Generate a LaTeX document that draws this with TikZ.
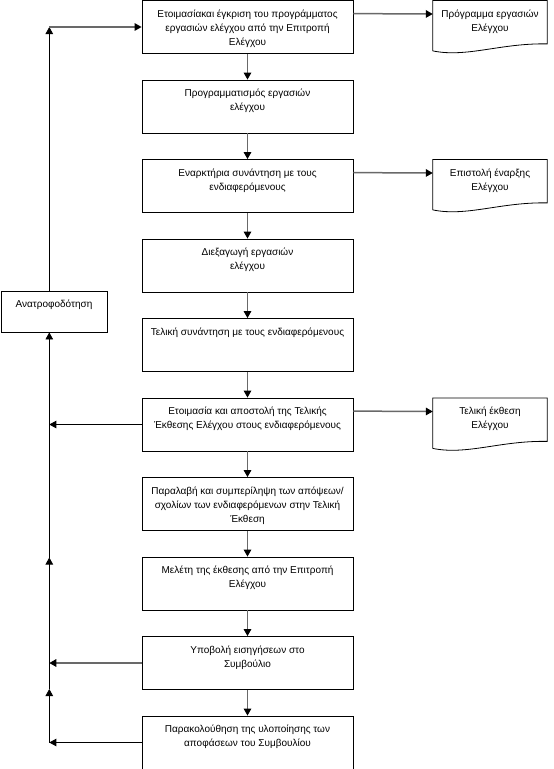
\documentclass[tikz,border=0pt]{standalone}
\usepackage{fontspec}
\setmainfont{Liberation Sans}
\usetikzlibrary{arrows.meta}
\usetikzlibrary{calc}

\definecolor{flowgray}{RGB}{105,105,105}
\newcommand{\boxtext}[3]{\parbox[c][#2][t]{#1}{\centering\rule{0pt}{16.5pt}#3}}

\begin{document}
\begin{tikzpicture}[x=1pt,y=1pt,
	box/.style={draw, line width=0.8pt, inner sep=0pt, minimum width=211pt, minimum height=53pt},
	doc/.style={inner sep=0pt, minimum width=114pt, anchor=north},
	flow/.style={draw=flowgray, line width=1.5pt, -{Triangle[length=7pt,width=7.5pt,black]}},
	back/.style={draw=black, line width=0.8pt, -{Triangle[length=7pt,width=7.5pt]}},
	font=\fontsize{10}{14}\selectfont]
	
	\useasboundingbox (0,0) rectangle (554,-769);
	
	% Main column
	\node[box] (b1) at (247.5,-27) {\boxtext{209pt}{53pt}{Ετοιμασίακαι έγκριση του προγράμματος\\ εργασιών ελέγχου από την Επιτροπή\\ Ελέγχου}};
	\node[box] (b2) at (247.5,-106.5) {\boxtext{209pt}{53pt}{Προγραμματισμός εργασιών\\ ελέγχου}};
	\node[box] (b3) at (247.5,-186) {\boxtext{209pt}{53pt}{Εναρκτήρια συνάντηση με τους\\ ενδιαφερόμενους}};
	\node[box] (b4) at (247.5,-265.5) {\boxtext{209pt}{53pt}{Διεξαγωγή εργασιών\\ ελέγχου}};
	\node[box] (b5) at (247.5,-345) {\boxtext{209pt}{53pt}{Τελική συνάντηση με τους ενδιαφερόμενους}};
	\node[box] (b6) at (247.5,-424.5) {\boxtext{209pt}{53pt}{Ετοιμασία και αποστολή της Τελικής\\ Έκθεσης Ελέγχου στους ενδιαφερόμενους}};
	\node[box] (b7) at (247.5,-504) {\boxtext{209pt}{53pt}{Παραλαβή και συμπερίληψη των απόψεων/\\ σχολίων των ενδιαφερόμενων στην Τελική\\ Έκθεση}};
	\node[box] (b8) at (247.5,-583.5) {\boxtext{209pt}{53pt}{Μελέτη της έκθεσης από την Επιτροπή\\ Ελέγχου}};
	\node[box] (b9) at (247.5,-663) {\boxtext{209pt}{53pt}{Υποβολή εισηγήσεων στο\\ Συμβούλιο}};
	\node[box] (b10) at (247.5,-742.5) {\boxtext{209pt}{53pt}{Παρακολούθηση της υλοποίησης των\\ αποφάσεων του Συμβουλίου}};
	
	\foreach \i/\j in {1/2,2/3,3/4,4/5,5/6,6/7,7/8,8/9,9/10} {
		\draw[flow] (b\i.south) -- (b\j.north);
	}
	
	% Documents
	\node[doc] (d1) at (490,-0.5) {\boxtext{112pt}{50pt}{Πρόγραμμα εργασιών\\ Ελέγχου}};
	\node[doc] (d2) at (490,-159.5) {\boxtext{112pt}{50pt}{Επιστολή έναρξης\\ Ελέγχου}};
	\node[doc] (d3) at (490,-398) {\boxtext{112pt}{50pt}{Τελική έκθεση\\ Ελέγχου}};
	
	\foreach \d in {d1,d2,d3} {
		\draw[line width=0.8pt] (\d.south west) -- (\d.north west) -- (\d.north east) -- ($(\d.south east)+(0,7)$)
			.. controls ($(\d.south west)+(68,8)$) and ($(\d.south west)+(34,-7)$) .. (\d.south west);
	}
	
	\draw[flow] ([yshift=-13.5pt]b1.north east) -- ([yshift=-13.5pt]d1.north west);
	\draw[flow] ([yshift=-13.5pt]b3.north east) -- ([yshift=-13.5pt]d2.north west);
	\draw[flow] ([yshift=-13.5pt]b6.north east) -- ([yshift=-13.5pt]d3.north west);
	
	% Feedback loop
	\node[draw, line width=0.8pt, inner sep=0pt, minimum width=106pt] (fb) at (54,-311.5) {\boxtext{104pt}{41pt}{Ανατροφοδότηση}};
	
	\coordinate (spine) at (49.3,0);
	\coordinate (c1) at (spine |- b1.west);
	\coordinate (c6) at (spine |- b6.west);
	\coordinate (c9) at (spine |- b9.west);
	\coordinate (c10) at (spine |- b10.west);
	\coordinate (m1) at (49.3,-557.5);
	\coordinate (m2) at (49.3,-689);
	
	\draw[back] (b10.west) -- (c10);
	\draw[flow] (b9.west) -- (c9);
	\draw[back] (b6.west) -- (c6);
	
	\draw[back] (c10) -- (m2);
	\draw[back, -] (m2) -- (c9);
	\draw[back] (c9) -- (m1);
	\draw[back, -] (m1) -- (c6);
	\draw[back] (c6) -- (spine |- fb.south);
	
	\draw[back] (spine |- fb.north) -- (c1);
	\draw[flow] (c1) -- (b1.west);
	
\end{tikzpicture}
\end{document}
